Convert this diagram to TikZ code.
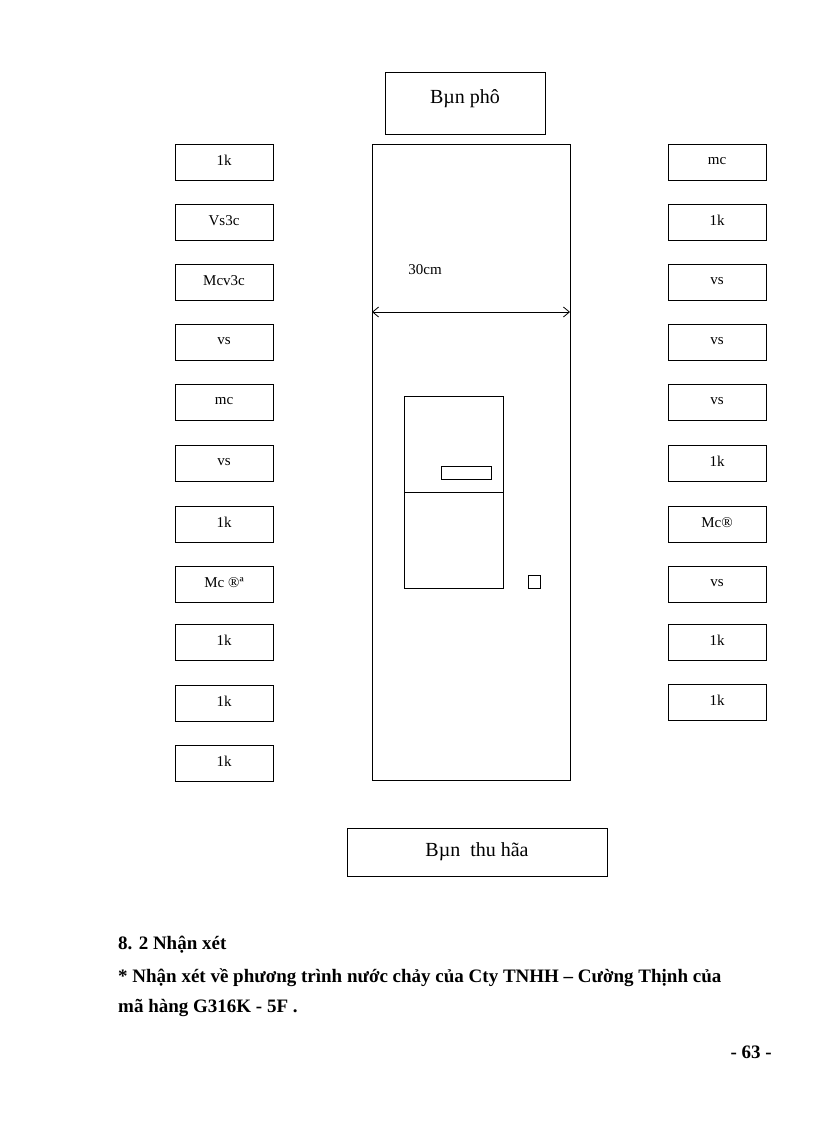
\documentclass[tikz,border=0pt]{standalone}
\usepackage{fontspec}
\setmainfont{Liberation Serif}
\usetikzlibrary{arrows.meta}
\begin{document}
\begin{tikzpicture}[x=1pt,y=-1pt,
 bx/.style={draw,line width=0.8pt,minimum width=98pt,minimum height=36pt,inner sep=0pt,font=\fontsize{15}{17}\selectfont},
 plain/.style={draw,line width=0.8pt}]
\useasboundingbox (0,0) rectangle (816,1123);
\node[plain,minimum width=160pt,minimum height=62pt,inner sep=0pt,font=\fontsize{20}{22}\selectfont] (top) at (465,103) {\raisebox{12pt}{Bµn phô}};
\node[plain,minimum width=198pt,minimum height=636pt,inner sep=0pt] (main) at (471,462) {};
\foreach \y/\t [count=\i] in {162/1k,222/Vs3c,282/Mcv3c,342/vs,402/mc,463/vs,524/1k,584/Mc ®ª,642/1k,703/1k,763/1k}
 \node[bx] (L\i) at (224,\y) {\raisebox{3pt}{\t}};
\foreach \y/\t [count=\i] in {162/mc,222/1k,282/vs,342/vs,402/vs,463/1k,524/Mc®,584/vs,642/1k,702/1k}
 \node[bx] (R\i) at (717,\y) {\raisebox{3pt}{\t}};
\coordinate (aL) at (372,312); \coordinate (aR) at (570,312);
\draw[line width=0.8pt,{Straight Barb[length=6pt,width=10pt]}-{Straight Barb[length=6pt,width=10pt]}] (aL) -- (aR);
\node[font=\fontsize{15}{17}\selectfont] (w) at (425,270) {30cm};
\node[plain,minimum width=99pt,minimum height=192pt,inner sep=0pt] (inner) at (453.5,492) {};
\coordinate (dl) at (404,492); \coordinate (dr) at (503,492);
\draw[line width=0.8pt] (dl) -- (dr);
\node[plain,minimum width=50pt,minimum height=13pt,inner sep=0pt] (slot) at (466,472.5) {};
\node[plain,minimum width=12pt,minimum height=13pt,inner sep=0pt] (sq) at (534,581.5) {};
\node[plain,minimum width=260pt,minimum height=48pt,inner sep=0pt,font=\fontsize{20}{22}\selectfont] (bot) at (477,852) {\raisebox{4pt}{Bµn\ \ thu hãa}};
\begin{scope}[font=\fontsize{19}{21}\selectfont\bfseries]
\node[anchor=west,inner sep=0pt] (h1) at (118,945) {8. 2 Nhận xét};
\node[anchor=west,inner sep=0pt] (h2) at (118,978) {* Nhận xét về phương trình nước chảy của Cty TNHH – Cường Thịnh của};
\node[anchor=west,inner sep=0pt] (h3) at (118,1008) {mã hàng G316K - 5F .};
\node[anchor=east,inner sep=0pt] (pg) at (772,1052) {- 63 -};
\end{scope}
\end{tikzpicture}
\end{document}
